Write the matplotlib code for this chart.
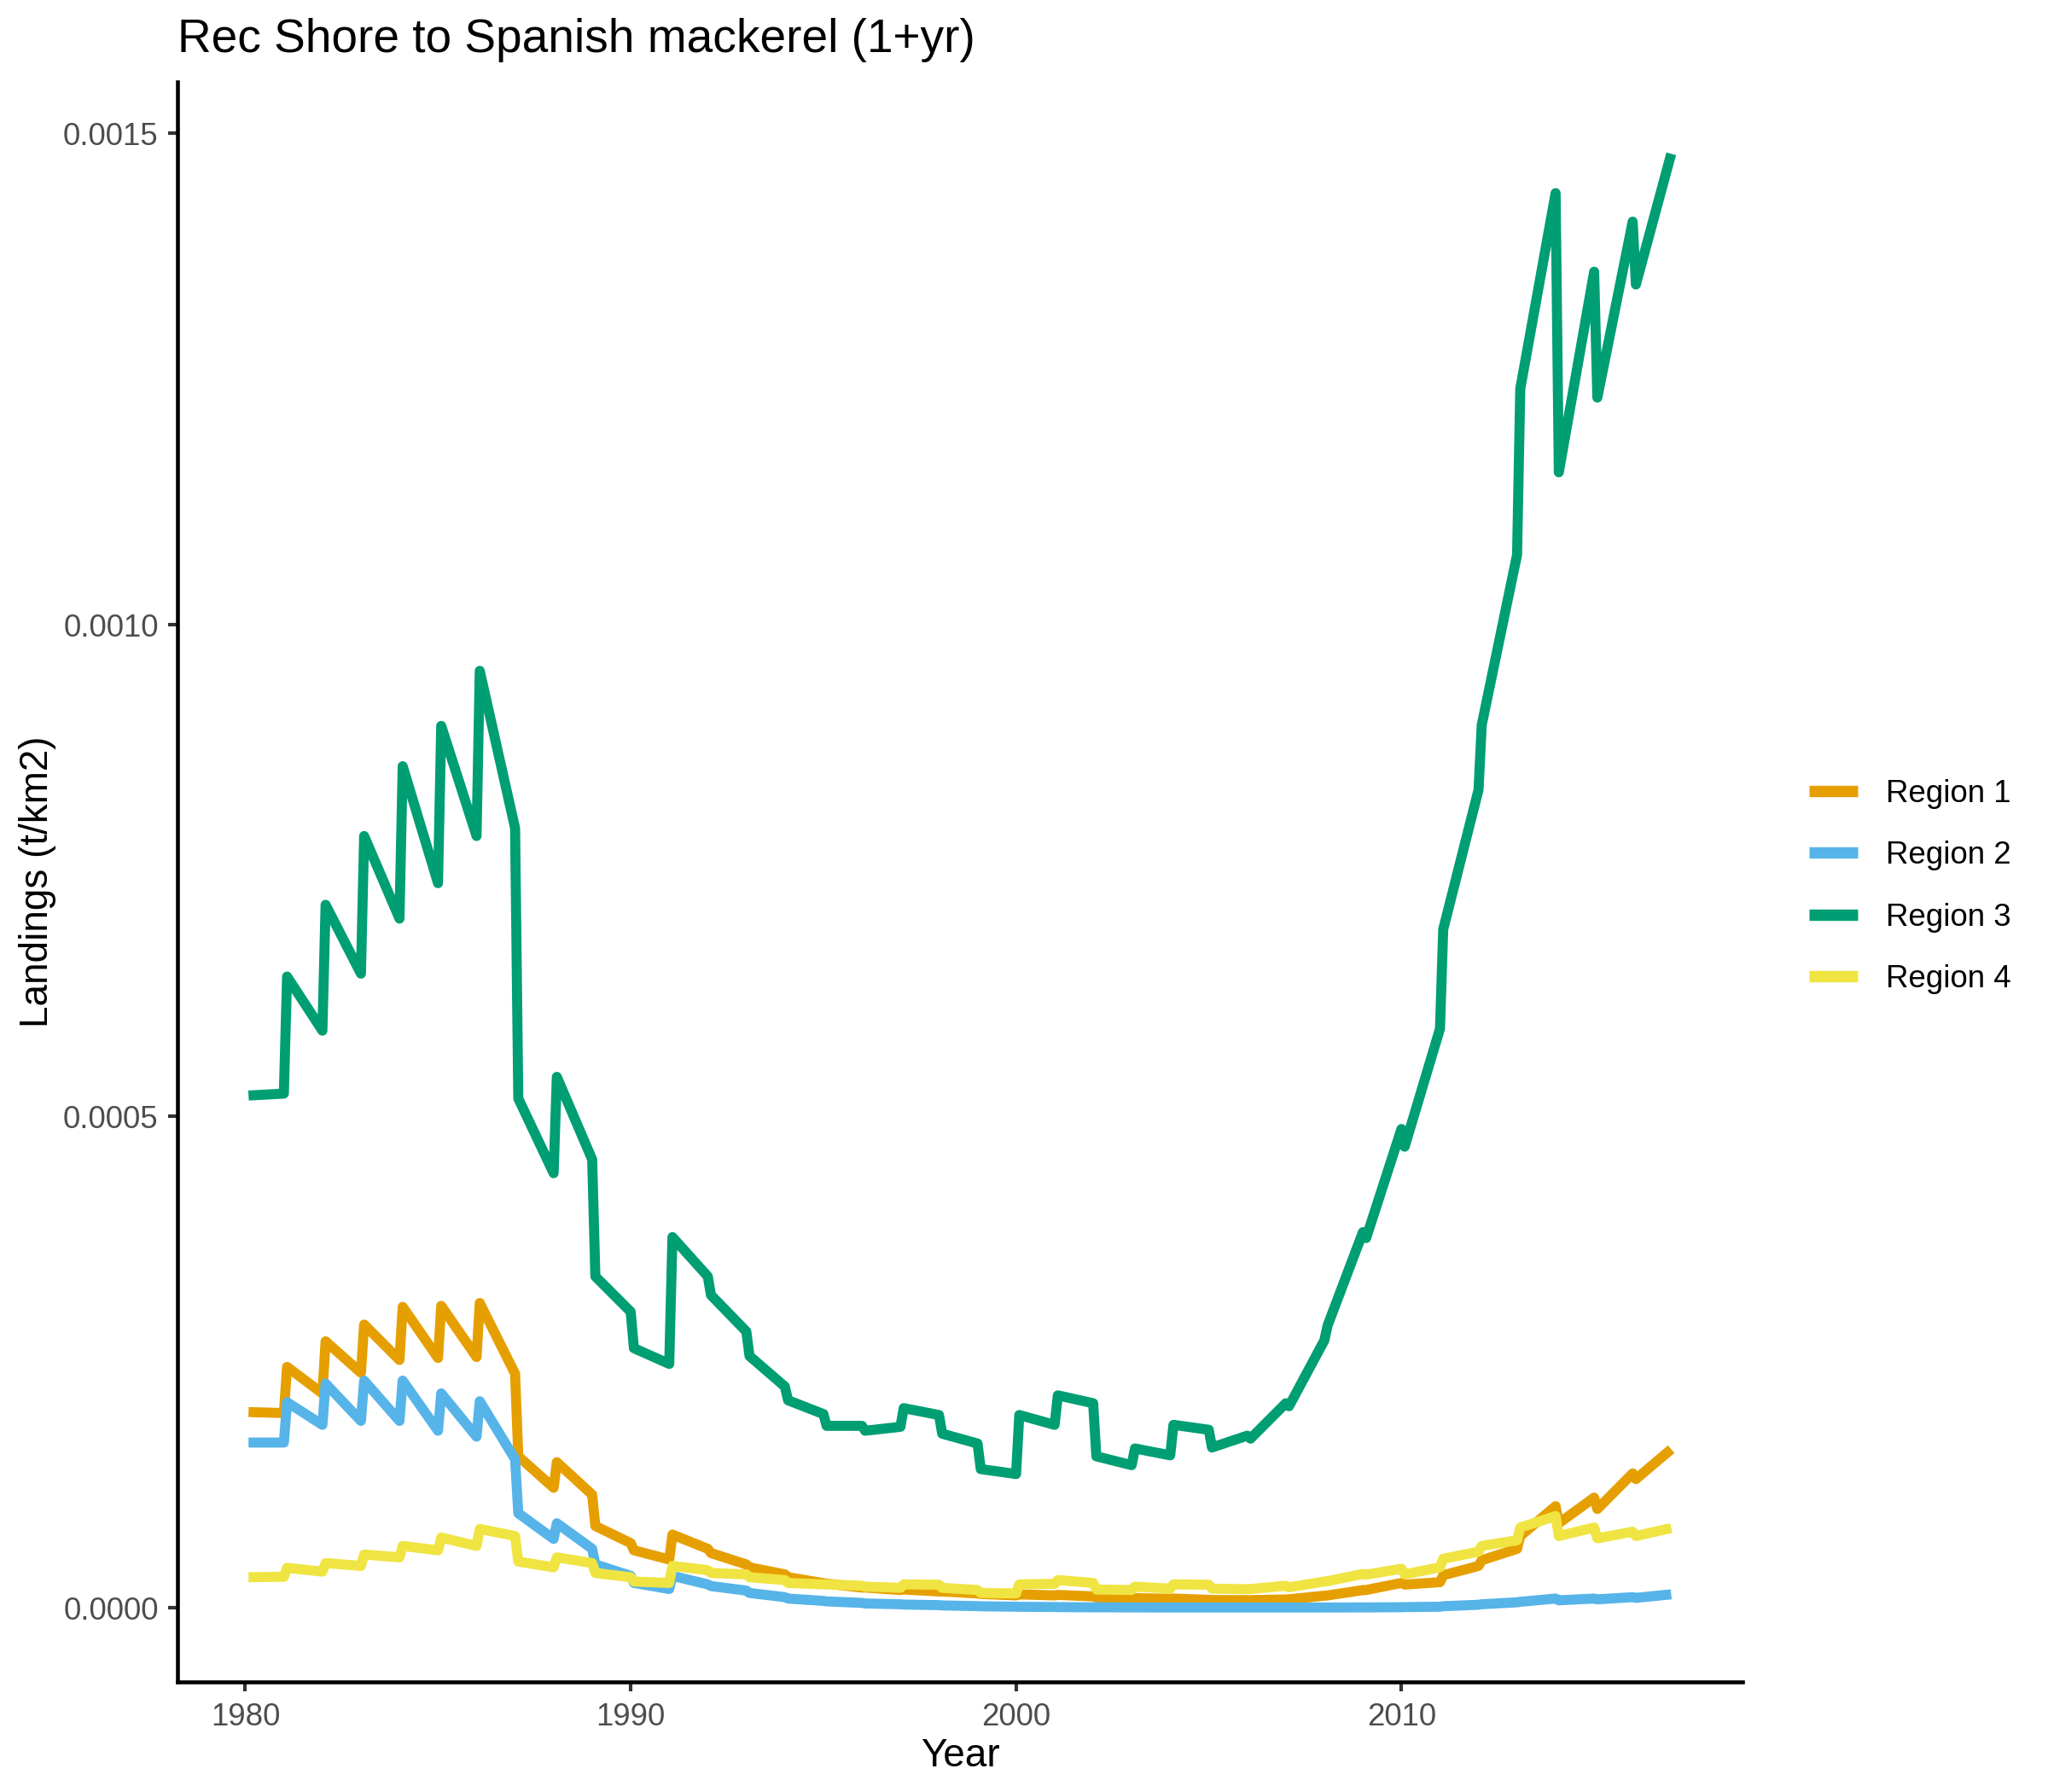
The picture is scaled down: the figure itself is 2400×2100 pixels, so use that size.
import matplotlib
matplotlib.use("Agg")
import matplotlib.pyplot as plt
from matplotlib.lines import Line2D
import numpy as np

plt.rcParams['font.family'] = ['Liberation Sans', 'DejaVu Sans']

title = "Rec Shore to Spanish mackerel (1+yr)"
x_label = "Year"
y_label = "Landings (t/km2)"
series_names = ["Region 1", "Region 2", "Region 3", "Region 4"]
series_colors = ["#E69F00", "#56B4E9", "#009E73", "#F0E442"]

years = list(range(1980, 2017))

# value at the first month (Jan) and last month (Dec) of each year
r1_start = [0.000199, 0.000245, 0.000271, 0.000288, 0.000306, 0.000307, 0.000310,
            0.000154, 0.000148, 0.0000831, 0.0000584, 0.0000744, 0.0000556, 0.0000411,
            0.0000310, 0.0000245, 0.0000205, 0.0000185, 0.0000165, 0.0000140, 0.0000135,
            0.0000130, 0.0000105, 0.0000098, 0.0000093, 0.0000078, 0.0000077, 0.0000086,
            0.0000125, 0.0000180, 0.0000235, 0.0000330, 0.0000483, 0.0000729, 0.0000859,
            0.0001004, 0.0001308]
r1_end = [0.000198, 0.000218, 0.000239, 0.000252, 0.000254, 0.000255, 0.000238,
          0.000122, 0.000115, 0.0000657, 0.0000490, 0.0000599, 0.0000440, 0.0000339,
          0.0000250, 0.0000205, 0.0000180, 0.0000165, 0.0000145, 0.0000125, 0.0000125,
          0.0000115, 0.0000098, 0.0000090, 0.0000080, 0.0000077, 0.0000084, 0.0000122,
          0.0000179, 0.0000252, 0.0000260, 0.0000425, 0.0000599, 0.0001033, 0.0001120,
          0.0001366, 0.0001612]

r2_start = [0.000168, 0.000209, 0.000228, 0.000231, 0.000231, 0.000218, 0.000210,
            0.0000961, 0.0000859, 0.0000440, 0.0000252, 0.0000324, 0.0000220, 0.0000150,
            0.0000093, 0.0000064, 0.0000043, 0.0000032, 0.0000023, 0.0000014, 0.0000009,
            0.0000006, 0.0000004, 0.0000003, 0.0000002, 0.0000002, 0.0000002, 0.0000002,
            0.0000002, 0.0000003, 0.0000006, 0.0000015, 0.0000035, 0.0000060, 0.0000075,
            0.0000085, 0.0000100]
r2_end = [0.000168, 0.000186, 0.000190, 0.000190, 0.000180, 0.000174, 0.000151,
          0.0000700, 0.0000599, 0.0000324, 0.0000190, 0.0000237, 0.0000174, 0.0000107,
          0.0000069, 0.0000049, 0.0000035, 0.0000026, 0.0000016, 0.0000010, 0.0000007,
          0.0000004, 0.0000003, 0.0000002, 0.0000002, 0.0000002, 0.0000002, 0.0000002,
          0.0000003, 0.0000005, 0.0000010, 0.0000030, 0.0000055, 0.0000093, 0.0000093,
          0.0000107, 0.0000136]

r3_start = [0.000521, 0.000642, 0.000715, 0.000785, 0.000856, 0.000897, 0.000953,
            0.000518, 0.000540, 0.000337, 0.000264, 0.000377, 0.000318, 0.000256,
            0.000211, 0.000185, 0.000180, 0.000203, 0.000177, 0.000141, 0.000196,
            0.000216, 0.000154, 0.000162, 0.000186, 0.000163, 0.000172, 0.000205,
            0.000287, 0.000376, 0.000469, 0.000690, 0.000898, 0.001240, 0.001155,
            0.001231, 0.001346]
r3_end = [0.000523, 0.000587, 0.000645, 0.000701, 0.000737, 0.000785, 0.000793,
          0.000442, 0.000456, 0.000301, 0.000248, 0.000337, 0.000281, 0.000225,
          0.000197, 0.000185, 0.000184, 0.000196, 0.000167, 0.000136, 0.000186,
          0.000208, 0.000145, 0.000155, 0.000181, 0.000175, 0.000208, 0.000272,
          0.000382, 0.000487, 0.000589, 0.000832, 0.001071, 0.001439, 0.001359,
          0.001410, 0.001479]

r4_start = [0.0000310, 0.0000405, 0.0000454, 0.0000541, 0.0000628, 0.0000714, 0.0000801,
            0.0000469, 0.0000512, 0.0000353, 0.0000266, 0.0000425, 0.0000353, 0.0000310,
            0.0000252, 0.0000237, 0.0000214, 0.0000237, 0.0000202, 0.0000150, 0.0000237,
            0.0000281, 0.0000185, 0.0000214, 0.0000237, 0.0000194, 0.0000190, 0.0000208,
            0.0000270, 0.0000336, 0.0000339, 0.0000498, 0.0000628, 0.0000816, 0.0000729,
            0.0000706, 0.0000729]
r4_end = [0.0000315, 0.0000367, 0.0000425, 0.0000512, 0.0000584, 0.0000628, 0.0000729,
          0.0000411, 0.0000454, 0.0000310, 0.0000252, 0.0000382, 0.0000339, 0.0000281,
          0.0000237, 0.0000223, 0.0000202, 0.0000234, 0.0000180, 0.0000145, 0.0000243,
          0.0000252, 0.0000180, 0.0000194, 0.0000234, 0.0000188, 0.0000223, 0.0000266,
          0.0000344, 0.0000396, 0.0000411, 0.0000570, 0.0000686, 0.0000932, 0.0000816,
          0.0000773, 0.0000810]

x_ticks = [1980, 1990, 2000, 2010]
y_ticks = [0.0, 0.0005, 0.0010, 0.0015]
y_tick_labels = ["0.0000", "0.0005", "0.0010", "0.0015"]


def build(starts, ends):
    xs, ys = [], []
    for yr, s, e in zip(years, starts, ends):
        xs += [yr + 1 / 12, yr + 1.0]
        ys += [s, e]
    return np.array(xs), np.array(ys)


W, H = 2400, 2100
fig = plt.figure(figsize=(8, 7), dpi=300)
ax_left, ax_right = 208 / W, 2042 / W
ax_bottom, ax_top = 1 - 1971 / H, 1 - 96 / H
ax = fig.add_axes([ax_left, ax_bottom, ax_right - ax_left, ax_top - ax_bottom])

all_series = [(r1_start, r1_end), (r2_start, r2_end), (r3_start, r3_end), (r4_start, r4_end)]
lw = 2.83
for (s, e), name, col in zip(all_series, series_names, series_colors):
    xs, ys = build(s, e)
    ax.plot(xs, ys, color=col, lw=lw, solid_joinstyle='round', solid_capstyle='butt', label=name)

ax.set_xlim(1978.24, 2018.85)
ax.set_ylim(-0.0000755, 0.0015521)
ax.set_xticks(x_ticks)
ax.set_xticklabels([str(t) for t in x_ticks])
ax.set_yticks(y_ticks)
ax.set_yticklabels(y_tick_labels)

for side in ['top', 'right']:
    ax.spines[side].set_visible(False)
for side in ['left', 'bottom']:
    ax.spines[side].set_linewidth(1.1)
    ax.spines[side].set_color('black')
    ax.spines[side].set_capstyle('projecting')

ax.tick_params(axis='both', which='major', length=2.75, width=1.0, color='#333333',
               labelsize=8.8, labelcolor='#4D4D4D')
ax.tick_params(axis='x', pad=3.0)
ax.tick_params(axis='y', pad=2.6)

ax.set_xlabel(x_label, fontsize=11, color='black', labelpad=1.5)
ax.set_ylabel(y_label, fontsize=11, color='black', labelpad=2.0)

fig.text(ax_left, 1 - 61 / H, title, fontsize=13.2, ha='left', va='baseline', color='black')

handles = [Line2D([0], [0], color=c, lw=3.2, solid_capstyle='butt') for c in series_colors]
leg = fig.legend(handles, series_names, loc='center left',
                 bbox_to_anchor=(2120 / W, 1 - 1039 / H), frameon=False,
                 fontsize=8.8, handlelength=1.55, handletextpad=0.9,
                 labelspacing=1.02, borderpad=0, borderaxespad=0)

fig.savefig("out.png", dpi=300)
